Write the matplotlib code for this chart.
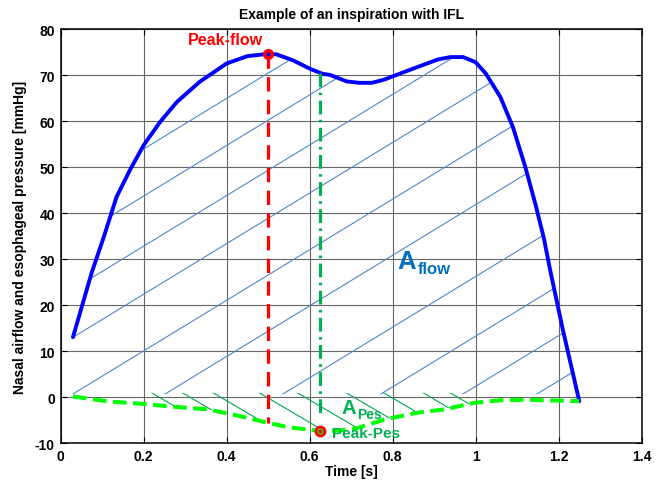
import numpy as np
import matplotlib
matplotlib.use("Agg")
import matplotlib.pyplot as plt
from matplotlib.patches import Polygon

plt.rcParams['font.family'] = ['Liberation Sans', 'DejaVu Sans']
plt.rcParams['font.weight'] = 'bold'
plt.rcParams['axes.unicode_minus'] = False

# ---- data ----
flow_t = [0.03, 0.075, 0.105, 0.135, 0.167, 0.20, 0.24, 0.28, 0.335, 0.40, 0.45, 0.50,
          0.52, 0.56, 0.60, 0.63, 0.65, 0.69, 0.72, 0.75, 0.78, 0.85, 0.91, 0.94, 0.97,
          1.00, 1.025, 1.06, 1.09, 1.12, 1.145, 1.165, 1.18, 1.21, 1.25]
flow_v = [13.0, 27.0, 35.0, 43.5, 49.3, 54.7, 59.8, 64.1, 68.5, 72.5, 74.1, 74.6,
          74.5, 73.2, 71.4, 70.3, 70.0, 68.6, 68.3, 68.3, 69.0, 71.4, 73.4, 73.9, 73.9,
          72.8, 70.3, 65.2, 58.7, 50.0, 41.7, 34.4, 27.5, 14.8, -0.9]

pes_t = [0.03, 0.12, 0.20, 0.27, 0.356, 0.42, 0.49, 0.55, 0.60, 0.625, 0.67, 0.71,
         0.78, 0.86, 0.924, 0.995, 1.06, 1.12, 1.25]
pes_v = [0.1, -1.0, -1.5, -2.1, -2.7, -3.9, -5.4, -6.6, -7.1, -7.4, -7.3, -6.9,
         -4.9, -3.4, -2.7, -1.3, -0.7, -0.6, -0.9]

# hatch lines (crossing times) for the two areas
flow_hatch_t0 = [-0.780, -0.594, -0.396, -0.206, 0.018, 0.240, 0.524, 0.760, 0.958, 1.136]
pes_hatch_t0 = [0.22, 0.294, 0.368, 0.479, 0.571, 0.689, 0.779, 0.874, 0.939]
flow_hatch_slope = 55.0
pes_hatch_slope = -53.0

xticks = [0, 0.2, 0.4, 0.6, 0.8, 1.0, 1.2, 1.4]
xticklabels = ['0', '0.2', '0.4', '0.6', '0.8', '1', '1.2', '1.4']
yticks = [-10, 0, 10, 20, 30, 40, 50, 60, 70, 80]

flow_t = np.array(flow_t); flow_v = np.array(flow_v)
pes_t = np.array(pes_t); pes_v = np.array(pes_v)

fig = plt.figure(figsize=(6.6, 4.81), dpi=100)
ax = fig.add_axes([0.0917, 0.0769, 0.8803, 0.8607])
ax.set_xlim(0, 1.4)
ax.set_ylim(-10, 80)

ax.grid(True, color='#666666', lw=0.8, zorder=0)
ax.set_axisbelow(True)

# ---- hatch for A_flow ----
floor = 0.6
poly_flow = np.column_stack([np.r_[flow_t, flow_t[0]],
                             np.r_[np.maximum(flow_v, floor), floor]])
clip_flow = Polygon(poly_flow, closed=True, transform=ax.transData,
                    fill=False, edgecolor='none')
ax.add_patch(clip_flow)
tt = np.array([0.0, 1.4])
for t0 in flow_hatch_t0:
    ln, = ax.plot(tt, flow_hatch_slope * (tt - t0), color='#4f86c6', lw=0.8, zorder=2)
    ln.set_clip_path(clip_flow)

# ---- hatch for A_Pes ----
top = 0.9
poly_pes = np.column_stack([np.r_[pes_t, pes_t[-1], pes_t[0]],
                            np.r_[np.minimum(pes_v, top), top, top]])
clip_pes = Polygon(poly_pes, closed=True, transform=ax.transData,
                   fill=False, edgecolor='none')
ax.add_patch(clip_pes)
for s0 in pes_hatch_t0:
    ln, = ax.plot(tt, top + pes_hatch_slope * (tt - s0), color='#00a650', lw=0.8, zorder=2)
    ln.set_clip_path(clip_pes)

# ---- curves ----
ax.plot(flow_t, flow_v, color='#0000ff', lw=2.8, zorder=4, solid_capstyle='round',
        solid_joinstyle='round')
ax.plot(pes_t, pes_v, color='#00ff00', lw=2.9, dashes=(3.4, 1.6), zorder=4)

# peaks
i_pf = int(np.argmax(flow_v))
t_pf, v_pf = flow_t[i_pf], flow_v[i_pf]
i_pp = int(np.argmin(pes_v))
t_pp, v_pp = pes_t[i_pp], pes_v[i_pp]

ax.plot([t_pf, t_pf], [v_pf, np.interp(t_pf, pes_t, pes_v)], color='#ff0000',
        lw=2.3, dashes=(4.5, 2.6), zorder=5)
ax.plot([t_pp, t_pp], [np.interp(t_pp, flow_t, flow_v), -3.5], color='#00b050',
        lw=2.3, dashes=(4.3, 1.7, 0.8, 1.7), zorder=5)

ax.plot([t_pf], [v_pf], 'o', ms=7, mfc='#ff0000', mec='#ff0000', zorder=6)
ax.plot([t_pf], [v_pf], 'o', ms=1.8, mfc='#0000ff', mec='#0000ff', zorder=7)
ax.plot([t_pp], [v_pp], 'o', ms=7.5, mfc='#ff0000', mec='#ff0000', zorder=6)
ax.plot([t_pp], [v_pp], 'o', ms=3.6, mfc='none', mec='#00ff00', mew=0.8, zorder=7)

# ---- annotations ----
ax.text(0.308, 76.65, 'Peak-flow', color='#ff0000', fontsize=11.5, fontweight='bold',
        ha='left', va='baseline', zorder=8)
ax.text(0.812, 28.0, 'A', color='#0070c0', fontsize=18.5, fontweight='bold',
        ha='left', va='baseline', zorder=8)
ax.text(0.860, 27.0, 'flow', color='#0070c0', fontsize=12, fontweight='bold',
        ha='left', va='baseline', zorder=8)
ax.text(0.678, -3.4, 'A', color='#00b050', fontsize=14.5, fontweight='bold',
        ha='left', va='baseline', zorder=8)
ax.text(0.714, -4.6, 'Pes', color='#00b050', fontsize=10, fontweight='bold',
        ha='left', va='baseline', zorder=8)
ax.text(0.653, -8.6, 'Peak-Pes', color='#00b050', fontsize=11, fontweight='bold',
        ha='left', va='baseline', zorder=8)

# ---- axes styling ----
ax.set_xticks(xticks)
ax.set_xticklabels(xticklabels)
ax.set_yticks(yticks)
ax.tick_params(direction='in', top=True, right=True, length=4, width=0.8,
               labelsize=10, pad=4)
for lab in ax.get_xticklabels() + ax.get_yticklabels():
    lab.set_fontweight('bold')
for sp in ax.spines.values():
    sp.set_linewidth(1.1)

ax.set_title('Example of an inspiration with IFL', fontsize=10, fontweight='bold', pad=8)
ax.set_xlabel('Time [s]', fontsize=10, fontweight='bold', labelpad=1)
ax.set_ylabel('Nasal airflow and esophageal pressure [mmHg]', fontsize=10,
              fontweight='bold', labelpad=6)

fig.savefig('out.png', dpi=100)
